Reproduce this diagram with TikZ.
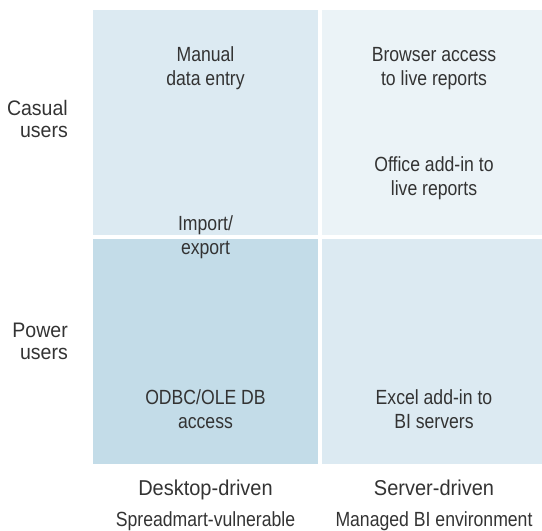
\documentclass[tikz,border=0pt]{standalone}
\usepackage{fontspec}
\setmainfont{Liberation Sans}[FakeStretch=0.86]
\newfontfamily\labelfont{Liberation Sans}[FakeStretch=0.93]
\definecolor{inkgray}{HTML}{333333}
\definecolor{cellmid}{HTML}{DCEAF2}
\definecolor{celllight}{HTML}{EBF3F7}
\definecolor{celldark}{HTML}{C3DCE8}

\begin{document}
\begin{tikzpicture}[x=1pt,y=-1pt,
    celltext/.style={anchor=base,align=center,text=inkgray,inner sep=0pt,
      font=\fontsize{20.5}{24}\selectfont},
    rowlabel/.style={anchor=base east,align=right,text=inkgray,inner sep=0pt,
      font=\labelfont\fontsize{21}{21.5}\selectfont},
    collabel/.style={anchor=base,text=inkgray,inner sep=0pt,
      font=\labelfont\fontsize{21.5}{24}\selectfont},
    colnote/.style={anchor=base,text=inkgray,inner sep=0pt,
      font=\fontsize{20.5}{24}\selectfont}]
   \useasboundingbox (0,0) rectangle (542,531);
   % the four cells
   \fill[cellmid]   (93,10)  rectangle (318,234.5);
   \fill[celllight] (322,10) rectangle (542,234.5);
   \fill[celldark]  (93,239) rectangle (318,464);
   \fill[cellmid]   (322,239) rectangle (542,464);
   % cell texts (base = last line)
   \node[celltext] (manual)  at (205.5,85.7)  {Manual\\data entry};
   \node[celltext] (import)  at (205.5,254.7) {Import/\\export};
   \node[celltext] (odbc)    at (205.5,428)   {ODBC/OLE DB\\access};
   \node[celltext] (browser) at (434,85.7)    {Browser access\\to live reports};
   \node[celltext] (office)  at (434,195.7)   {Office add-in to\\live reports};
   \node[celltext] (excel)   at (434,428)     {Excel add-in to\\BI servers};
   % rows
   \node[rowlabel] (casual) at (68,137.2) {Casual\\users};
   \node[rowlabel] (power)  at (68,359.2) {Power\\users};
   % columns
   \node[collabel] (desktop) at (205.5,495)  {Desktop-driven};
   \node[colnote]  (spread)  at (205.5,526.7) {Spreadmart-vulnerable};
   \node[collabel] (server)  at (434,495)    {Server-driven};
   \node[colnote]  (managed) at (434,526.7)  {Managed BI environment};
\end{tikzpicture}
\end{document}
